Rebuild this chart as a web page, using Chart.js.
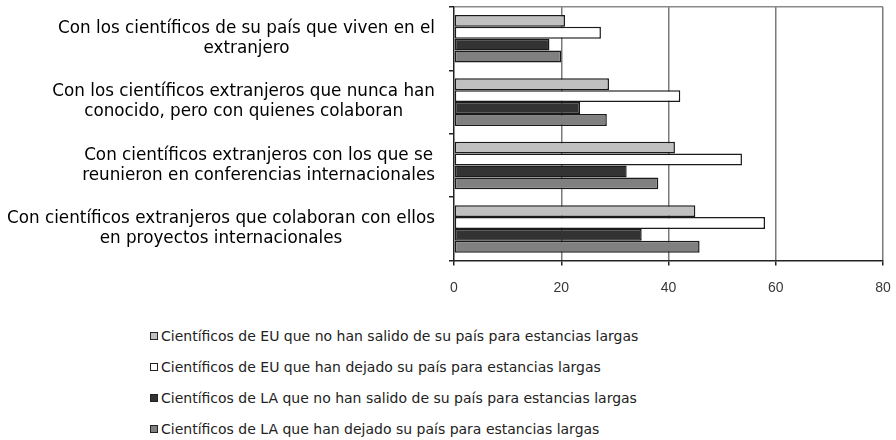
<!DOCTYPE html>
<html>
<head>
<meta charset="utf-8">
<script src="https://cdn.jsdelivr.net/npm/chart.js@4.4.0/dist/chart.umd.min.js"></script>
<style>
  body { margin: 0; background: #fff; }
  #wrap { position: relative; width: 896px; height: 316px; }
  #legend { position: absolute; left: 150px; top: 320px; font-family: "DejaVu Sans"; font-size: 14px; color: #222; }
  .item { height: 31px; display: flex; align-items: center; }
  .box { width: 6px; height: 6px; border: 1.5px solid #222; margin-right: 3px; }
</style>
</head>
<body>
<div id="wrap"><canvas id="chart" width="896" height="316"></canvas></div>
<div id="legend"></div>
<script>
// values (percent)
const categories = [
    ["Con los científicos de su país que viven en el", "extranjero"],
    ["Con los científicos extranjeros que nunca han", "conocido, pero con quienes colaboran"],
    ["Con científicos extranjeros con los que se", "reunieron en conferencias internacionales"],
    ["Con científicos extranjeros que colaboran con ellos", "en proyectos internacionales"]
]
const series_names = [
    "Científicos de EU que no han salido de su país para estancias largas",
    "Científicos de EU que han dejado su país para estancias largas",
    "Científicos de LA que no han salido de su país para estancias largas",
    "Científicos de LA que han dejado su país para estancias largas"
]
const eu_stayed = [20.7, 28.9, 41.2, 45.0]
const eu_left = [27.4, 42.2, 53.7, 58.0]
const la_stayed = [17.8, 23.5, 32.2, 35.0]
const la_left = [20.0, 28.5, 38.1, 45.8]
const x_ticks = [0, 20, 40, 60, 80]
const colors = ['#c0c0c0', '#ffffff', '#333333', '#808080']

// category labels: each block centered on itself, right aligned next to the axis
const catLabels = {
    id: 'catLabels',
    afterDraw(chart) {
        let c = chart.ctx
        let y = chart.scales.y
        c.save()
        c.font = '16.8px "DejaVu Sans"'
        c.fillStyle = '#000'
        c.textAlign = 'center'
        c.textBaseline = 'middle'
        categories.forEach((lines, i) => {
            let widest = Math.max(...lines.map(l => c.measureText(l).width))
            let cx = y.right - 19 - widest / 2
            let cy = y.getPixelForTick(i)
            lines.forEach((l, j) => {
                c.fillText(l, cx, cy + (j - (lines.length - 1) / 2) * 20)
            })
        })
        c.restore()
    }
}

const all_series = [eu_stayed, eu_left, la_stayed, la_left]

new Chart(document.querySelector("#chart"), {
    type: 'bar',
    data: {
        labels: categories,
        datasets: all_series.map((d, i) => ({
            label: series_names[i],
            data: d,
            backgroundColor: colors[i],
            borderColor: '#1a1a1a',
            borderWidth: 1.5,
            borderSkipped: false,
            categoryPercentage: 0.75,
            barPercentage: 1
        }))
    },
    options: {
        indexAxis: 'y',
        responsive: false,
        animation: false,
        layout: { padding: { top: 7, right: 13, left: 0, bottom: 5.6 } },
        plugins: { legend: { display: false }, tooltip: { enabled: false } },
        scales: {
            x: {
                min: x_ticks[0],
                max: x_ticks[x_ticks.length - 1],
                afterBuildTicks: s => { s.ticks = x_ticks.map(v => ({ value: v })) },
                afterFit: s => { s.paddingLeft = 0; s.paddingRight = 0 },
                ticks: { color: '#383838', font: { family: 'Liberation Sans', size: 14 }, padding: 14 },
                grid: {
                    color: ctx => ctx.tick && ctx.tick.value === 0 ? 'rgba(0,0,0,0)' : '#7a7a7a',
                    lineWidth: 1.5,
                    tickColor: '#222',
                    tickLength: 5
                },
                border: { color: '#222', width: 1.5 }
            },
            y: {
                ticks: { display: false },
                grid: {
                    offset: true,
                    drawOnChartArea: true,
                    color: ctx => ctx.index === 0 ? '#8a8a8a' : 'rgba(0,0,0,0)',
                    tickColor: '#222',
                    tickLength: 5,
                    lineWidth: 1.5
                },
                border: { color: '#222', width: 1.5 },
                afterFit: s => { s.width = 454 }
            }
        }
    },
    plugins: [catLabels]
})

let legend = document.querySelector("#legend")
series_names.forEach((name, i) => {
    legend.innerHTML += '<div class="item"><span class="box" style="background:' + colors[i] + '"></span>' + name + '</div>'
})
</script>
</body>
</html>
